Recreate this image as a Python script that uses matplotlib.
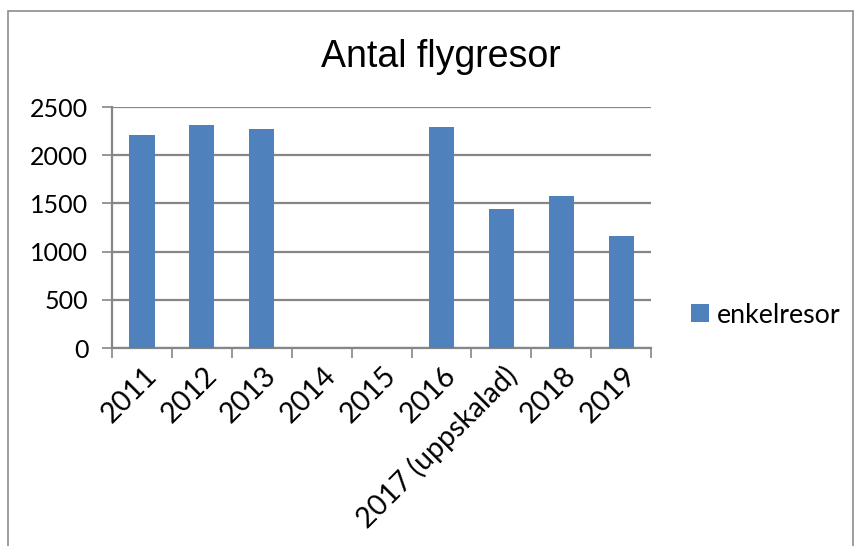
import matplotlib
matplotlib.use('Agg')
import matplotlib.pyplot as plt
from matplotlib.patches import Rectangle

# Data
years = ['2011', '2012', '2013', '2014', '2015', '2016',
         '2017 (uppskalad)', '2018', '2019']
enkelresor = [2205, 2310, 2270, 0, 0, 2295, 1440, 1578, 1162]
y_ticks = [0, 500, 1000, 1500, 2000, 2500]

BAR_COLOR = '#4F81BD'
GRID_COLOR = '#868686'

plt.rcParams['font.family'] = ['Lato', 'DejaVu Sans']

fig = plt.figure(figsize=(8.6, 5.46), dpi=100)
ax = fig.add_axes([0.1302, 0.3626, 0.627, 0.4414])

# Outer chart frame like an Excel chart area
fig.patches.append(Rectangle((0.0095, -0.05), 0.982, 1.03,
                             transform=fig.transFigure, fill=False,
                             edgecolor='#8c8c8c', linewidth=1.2))

x = range(len(years))
bars = ax.bar(x, enkelresor, width=0.42, color=BAR_COLOR, zorder=3,
              label='enkelresor')

ax.set_xlim(-0.5, len(years) - 0.5)
ax.set_ylim(0, 2500)
ax.set_yticks(y_ticks)
ax.set_yticklabels([str(v) for v in y_ticks], fontsize=18)

# Category boundary ticks
ax.set_xticks([i - 0.5 for i in range(len(years) + 1)])
ax.set_xticklabels([])
ax.tick_params(axis='x', direction='out', length=7, width=1.2, color=GRID_COLOR)
ax.tick_params(axis='y', direction='out', length=7, width=1.2, color=GRID_COLOR, pad=10)

for i, lab in enumerate(years):
    ax.annotate(lab, xy=(i, 0), xycoords=('data', 'axes fraction'),
                xytext=(1, -10), textcoords='offset points',
                rotation=45, ha='right', va='top', rotation_mode='anchor',
                fontsize=20.5)

ax.grid(axis='y', color=GRID_COLOR, linewidth=1.6, zorder=0)
for s in ['top', 'right']:
    ax.spines[s].set_visible(False)
ax.spines['left'].set_color(GRID_COLOR)
ax.spines['left'].set_linewidth(1.6)
ax.spines['bottom'].set_color(GRID_COLOR)
ax.spines['bottom'].set_linewidth(1.6)

fig.text(0.512, 0.895, 'Antal flygresor', ha='center', va='center',
         fontsize=27, family=['Liberation Sans Narrow', 'Liberation Sans'])

leg = fig.legend(handles=[bars], labels=['enkelresor'], loc='center left',
                 bbox_to_anchor=(0.776, 0.423), frameon=False, fontsize=19.3,
                 handlelength=0.65, handleheight=0.65, handletextpad=0.3)

fig.savefig('out.png', dpi=100)
